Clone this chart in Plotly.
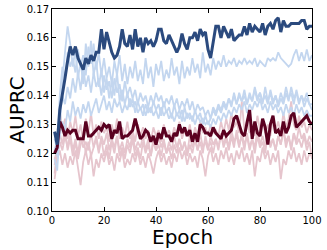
import plotly.graph_objects as go

epochs = list(range(1, 101))

main_blue = [0.1275, 0.123, 0.135, 0.140, 0.146, 0.152, 0.157, 0.154, 0.157, 0.153,
             0.151, 0.149, 0.153, 0.151, 0.154, 0.152, 0.155, 0.155, 0.163, 0.156,
             0.162, 0.158, 0.155, 0.153, 0.154, 0.157, 0.163, 0.158, 0.157, 0.161,
             0.156, 0.163, 0.157, 0.160, 0.155, 0.160, 0.158, 0.159, 0.157, 0.159,
             0.163, 0.163, 0.159, 0.158, 0.161, 0.159, 0.157, 0.155, 0.157, 0.1615,
             0.158, 0.156, 0.160, 0.160, 0.162, 0.159, 0.163, 0.161, 0.162, 0.156,
             0.153, 0.159, 0.164, 0.164, 0.160, 0.164, 0.162, 0.160, 0.163, 0.159,
             0.160, 0.161, 0.161, 0.164, 0.161, 0.165, 0.162, 0.164, 0.163, 0.162,
             0.165, 0.161, 0.164, 0.165, 0.163, 0.166, 0.167, 0.162, 0.166, 0.164,
             0.164, 0.165, 0.165, 0.165, 0.165, 0.166, 0.166, 0.163, 0.164, 0.164]

main_red = [0.120, 0.122, 0.131, 0.129, 0.126, 0.128, 0.127, 0.128, 0.128, 0.125,
            0.125, 0.125, 0.131, 0.126, 0.126, 0.127, 0.128, 0.129, 0.128, 0.130,
            0.129, 0.130, 0.125, 0.128, 0.127, 0.131, 0.125, 0.126, 0.126, 0.127,
            0.128, 0.132, 0.128, 0.125, 0.126, 0.128, 0.127, 0.124, 0.126, 0.123,
            0.127, 0.125, 0.129, 0.126, 0.126, 0.124, 0.127, 0.126, 0.130, 0.127,
            0.129, 0.126, 0.128, 0.124, 0.127, 0.124, 0.130, 0.129, 0.127, 0.127,
            0.126, 0.129, 0.127, 0.126, 0.125, 0.128, 0.126, 0.127, 0.128, 0.132,
            0.133, 0.130, 0.127, 0.126, 0.130, 0.135, 0.125, 0.131, 0.127, 0.126,
            0.132, 0.129, 0.123, 0.130, 0.133, 0.127, 0.128, 0.126, 0.131, 0.127,
            0.129, 0.133, 0.134, 0.129, 0.130, 0.131, 0.132, 0.133, 0.131, 0.130]

light_blue_1 = [0.118, 0.114, 0.128, 0.145, 0.155, 0.164, 0.158, 0.150, 0.156, 0.146,
                0.152, 0.144, 0.158, 0.150, 0.159, 0.147, 0.152, 0.143, 0.149, 0.141,
                0.146, 0.139, 0.145, 0.140, 0.148, 0.138, 0.142, 0.137, 0.141, 0.136,
                0.139, 0.134, 0.138, 0.135, 0.137, 0.133, 0.136, 0.134, 0.138, 0.135,
                0.137, 0.133, 0.138, 0.134, 0.136, 0.132, 0.137, 0.133, 0.135, 0.131,
                0.136, 0.132, 0.134, 0.131, 0.135, 0.132, 0.134, 0.130, 0.133, 0.130,
                0.132, 0.135, 0.133, 0.136, 0.134, 0.137, 0.135, 0.139, 0.136, 0.141,
                0.137, 0.140, 0.138, 0.142, 0.137, 0.140, 0.138, 0.143, 0.139, 0.141,
                0.138, 0.140, 0.137, 0.142, 0.138, 0.140, 0.137, 0.141, 0.138, 0.143,
                0.139, 0.141, 0.137, 0.142, 0.138, 0.140, 0.136, 0.139, 0.137, 0.135]

light_blue_2 = [0.121, 0.125, 0.140, 0.150, 0.146, 0.155, 0.150, 0.153, 0.148, 0.156,
                0.150, 0.154, 0.147, 0.157, 0.151, 0.158, 0.149, 0.155, 0.147, 0.153,
                0.146, 0.150, 0.144, 0.152, 0.147, 0.154, 0.145, 0.151, 0.144, 0.150,
                0.146, 0.152, 0.145, 0.149, 0.144, 0.153, 0.146, 0.150, 0.143, 0.151,
                0.147, 0.152, 0.145, 0.149, 0.146, 0.153, 0.147, 0.150, 0.144, 0.152,
                0.146, 0.150, 0.147, 0.153, 0.148, 0.151, 0.146, 0.155, 0.148, 0.151,
                0.147, 0.153, 0.149, 0.152, 0.150, 0.154, 0.150, 0.152, 0.151, 0.153,
                0.150, 0.152, 0.151, 0.153, 0.151, 0.152, 0.151, 0.153, 0.150, 0.152,
                0.151, 0.150, 0.153, 0.152, 0.153, 0.152, 0.155, 0.153, 0.152, 0.151,
                0.150, 0.151, 0.154, 0.156, 0.152, 0.155, 0.152, 0.156, 0.152, 0.154]

light_blue_3 = [0.122, 0.119, 0.133, 0.140, 0.137, 0.143, 0.139, 0.146, 0.141, 0.148,
                0.142, 0.150, 0.143, 0.147, 0.141, 0.148, 0.143, 0.146, 0.140, 0.147,
                0.142, 0.145, 0.139, 0.146, 0.141, 0.144, 0.138, 0.145, 0.140, 0.143,
                0.139, 0.142, 0.137, 0.141, 0.138, 0.140, 0.136, 0.140, 0.137, 0.141,
                0.138, 0.140, 0.136, 0.139, 0.137, 0.140, 0.136, 0.139, 0.135, 0.138,
                0.136, 0.139, 0.135, 0.138, 0.134, 0.137, 0.135, 0.136, 0.133, 0.135,
                0.132, 0.136, 0.134, 0.137, 0.135, 0.138, 0.136, 0.139, 0.137, 0.140,
                0.137, 0.141, 0.138, 0.140, 0.137, 0.141, 0.138, 0.142, 0.138, 0.141,
                0.137, 0.143, 0.138, 0.141, 0.137, 0.140, 0.136, 0.139, 0.137, 0.141,
                0.138, 0.143, 0.139, 0.141, 0.137, 0.140, 0.138, 0.141, 0.137, 0.137]

light_blue_4 = [0.125, 0.121, 0.126, 0.131, 0.128, 0.135, 0.131, 0.138, 0.133, 0.136,
                0.132, 0.137, 0.134, 0.138, 0.133, 0.136, 0.139, 0.134, 0.137, 0.140,
                0.135, 0.138, 0.134, 0.139, 0.136, 0.138, 0.134, 0.137, 0.135, 0.139,
                0.136, 0.138, 0.134, 0.136, 0.133, 0.137, 0.134, 0.136, 0.133, 0.135,
                0.132, 0.136, 0.133, 0.135, 0.132, 0.134, 0.131, 0.134, 0.132, 0.135,
                0.131, 0.134, 0.132, 0.133, 0.130, 0.133, 0.131, 0.132, 0.130, 0.131,
                0.129, 0.132, 0.130, 0.133, 0.131, 0.134, 0.132, 0.135, 0.133, 0.136,
                0.134, 0.137, 0.135, 0.138, 0.134, 0.137, 0.135, 0.138, 0.136, 0.139,
                0.135, 0.137, 0.134, 0.138, 0.135, 0.137, 0.134, 0.136, 0.133, 0.137,
                0.134, 0.136, 0.133, 0.137, 0.134, 0.136, 0.133, 0.135, 0.133, 0.133]

light_red_1 = [0.113, 0.122, 0.135, 0.128, 0.132, 0.125, 0.131, 0.127, 0.133, 0.126,
               0.130, 0.124, 0.132, 0.127, 0.134, 0.126, 0.130, 0.125, 0.131, 0.127,
               0.129, 0.124, 0.130, 0.126, 0.132, 0.125, 0.129, 0.126, 0.131, 0.125,
               0.128, 0.124, 0.130, 0.126, 0.129, 0.125, 0.128, 0.124, 0.129, 0.126,
               0.128, 0.124, 0.130, 0.126, 0.128, 0.125, 0.129, 0.126, 0.131, 0.125,
               0.128, 0.126, 0.130, 0.124, 0.129, 0.126, 0.131, 0.127, 0.129, 0.126,
               0.130, 0.127, 0.128, 0.126, 0.131, 0.127, 0.132, 0.128, 0.134, 0.129,
               0.131, 0.127, 0.138, 0.128, 0.132, 0.127, 0.130, 0.126, 0.133, 0.128,
               0.131, 0.127, 0.130, 0.126, 0.132, 0.128, 0.131, 0.127, 0.134, 0.129,
               0.132, 0.138, 0.130, 0.128, 0.133, 0.129, 0.131, 0.127, 0.130, 0.128]

light_red_2 = [0.116, 0.120, 0.124, 0.121, 0.126, 0.122, 0.127, 0.121, 0.125, 0.120,
               0.126, 0.122, 0.124, 0.121, 0.127, 0.122, 0.125, 0.120, 0.126, 0.123,
               0.127, 0.121, 0.125, 0.122, 0.126, 0.121, 0.124, 0.120, 0.125, 0.122,
               0.127, 0.121, 0.124, 0.122, 0.126, 0.121, 0.125, 0.119, 0.124, 0.121,
               0.126, 0.122, 0.125, 0.120, 0.124, 0.121, 0.126, 0.122, 0.125, 0.121,
               0.124, 0.120, 0.126, 0.122, 0.125, 0.121, 0.127, 0.122, 0.124, 0.121,
               0.126, 0.123, 0.125, 0.122, 0.127, 0.123, 0.126, 0.122, 0.128, 0.124,
               0.126, 0.122, 0.127, 0.123, 0.126, 0.121, 0.125, 0.122, 0.128, 0.123,
               0.126, 0.122, 0.127, 0.123, 0.125, 0.121, 0.126, 0.123, 0.128, 0.124,
               0.126, 0.122, 0.127, 0.124, 0.129, 0.125, 0.127, 0.123, 0.126, 0.124]

light_red_3 = [0.111, 0.118, 0.121, 0.116, 0.120, 0.115, 0.119, 0.116, 0.121, 0.114,
               0.109, 0.117, 0.121, 0.116, 0.120, 0.112, 0.118, 0.115, 0.120, 0.117,
               0.121, 0.116, 0.119, 0.114, 0.120, 0.117, 0.121, 0.115, 0.118, 0.116,
               0.120, 0.117, 0.121, 0.116, 0.119, 0.115, 0.120, 0.117, 0.113, 0.118,
               0.121, 0.117, 0.120, 0.116, 0.119, 0.115, 0.120, 0.117, 0.122, 0.118,
               0.121, 0.116, 0.120, 0.117, 0.119, 0.115, 0.121, 0.118, 0.112, 0.119,
               0.122, 0.117, 0.120, 0.116, 0.121, 0.118, 0.122, 0.117, 0.120, 0.116,
               0.121, 0.118, 0.122, 0.117, 0.120, 0.116, 0.121, 0.112, 0.119, 0.117,
               0.122, 0.118, 0.121, 0.116, 0.120, 0.117, 0.121, 0.111, 0.118, 0.116,
               0.121, 0.118, 0.122, 0.117, 0.120, 0.116, 0.121, 0.117, 0.120, 0.119]

light_red_4 = [0.118, 0.121, 0.127, 0.123, 0.129, 0.121, 0.125, 0.119, 0.124, 0.118,
               0.123, 0.126, 0.120, 0.124, 0.119, 0.122, 0.126, 0.121, 0.125, 0.119,
               0.123, 0.118, 0.124, 0.120, 0.126, 0.119, 0.122, 0.118, 0.123, 0.120,
               0.125, 0.119, 0.122, 0.118, 0.124, 0.120, 0.123, 0.119, 0.125, 0.121,
               0.123, 0.119, 0.124, 0.120, 0.122, 0.118, 0.123, 0.120, 0.125, 0.121,
               0.124, 0.119, 0.123, 0.120, 0.125, 0.121, 0.124, 0.120, 0.126, 0.122,
               0.124, 0.120, 0.125, 0.121, 0.127, 0.122, 0.125, 0.121, 0.126, 0.122,
               0.128, 0.123, 0.126, 0.121, 0.127, 0.122, 0.125, 0.120, 0.126, 0.122,
               0.124, 0.120, 0.127, 0.122, 0.125, 0.121, 0.126, 0.123, 0.128, 0.122,
               0.126, 0.121, 0.127, 0.123, 0.125, 0.122, 0.126, 0.121, 0.124, 0.118]

x_ticks = [0, 20, 40, 60, 80, 100]
y_ticks = [0.10, 0.11, 0.12, 0.13, 0.14, 0.15, 0.16, 0.17]
y_tick_labels = ["0.10", "0.11", "0.12", "0.13", "0.14", "0.15", "0.16", "0.17"]

LIGHT_RED = "#e6c5cd"
LIGHT_BLUE = "#c3d6ef"
DARK_RED = "#5a0120"
DARK_BLUE = "#2b4a7e"

fig = go.Figure()
for ys in [light_red_1, light_red_2, light_red_3, light_red_4]:
    fig.add_trace(go.Scatter(x=epochs, y=ys, mode="lines",
                             line=dict(color=LIGHT_RED, width=1.8)))
for ys in [light_blue_1, light_blue_2, light_blue_3, light_blue_4]:
    fig.add_trace(go.Scatter(x=epochs, y=ys, mode="lines",
                             line=dict(color=LIGHT_BLUE, width=1.8)))
fig.add_trace(go.Scatter(x=epochs, y=main_red, mode="lines",
                         line=dict(color=DARK_RED, width=3)))
fig.add_trace(go.Scatter(x=epochs, y=main_blue, mode="lines",
                         line=dict(color=DARK_BLUE, width=3)))

axis_common = dict(showgrid=False, zeroline=False, showline=True, linecolor="black",
                   linewidth=1, mirror="ticks", ticks="inside", ticklen=4,
                   tickcolor="black", automargin=False,
                   tickfont=dict(family="DejaVu Sans", size=10, color="black"))

fig.update_layout(
    width=327, height=250,
    margin=dict(l=52, r=15, t=9, b=39, autoexpand=False),
    paper_bgcolor="white", plot_bgcolor="white",
    showlegend=False,
    xaxis=dict(range=[0, 100], tickvals=x_ticks, **axis_common),
    yaxis=dict(range=[0.10, 0.17], tickvals=y_ticks, ticktext=y_tick_labels, **axis_common),
    annotations=[
        dict(text="Epoch", xref="paper", yref="paper", x=0.5, y=-0.128,
             xanchor="center", yanchor="middle", showarrow=False, borderpad=0,
             font=dict(family="DejaVu Sans", size=20, color="black")),
        dict(text="AUPRC", xref="paper", yref="paper", x=-0.136, y=0.5,
             xanchor="center", yanchor="middle", showarrow=False, textangle=-90,
             borderpad=0,
             font=dict(family="DejaVu Sans", size=20, color="black")),
    ],
)

fig.write_html("out.html", config={"displayModeBar": False},
               post_script="document.body.style.margin='0';document.body.style.overflow='hidden';")
